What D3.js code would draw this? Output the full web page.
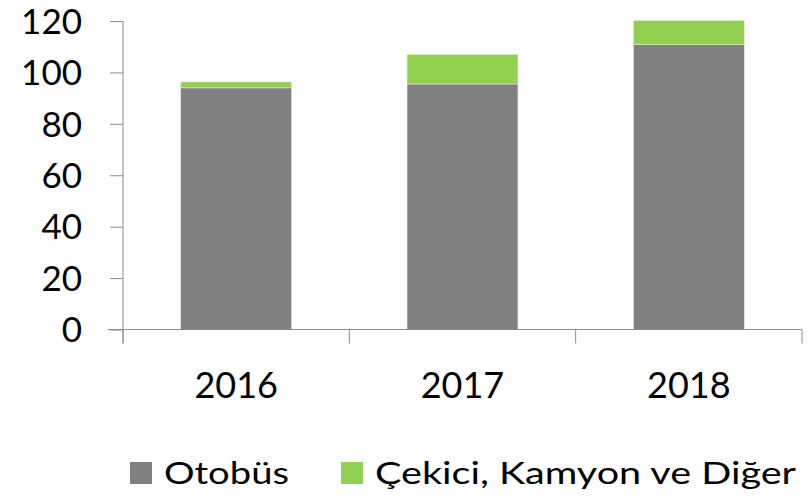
<!DOCTYPE html>
<html><head><meta charset="utf-8">
<script src="https://cdn.jsdelivr.net/npm/d3@7"></script>
<style>body{margin:0;background:#fff}svg{display:block}text{font-family:Lato,"Open Sans",sans-serif}</style>
</head><body><svg id="c" width="810" height="497"></svg>
<script>
const categories = ["2016","2017","2018"];
const seriesNames = ["Otobüs","Çekici, Kamyon ve Diğer"];
const otobus = [94.0, 95.5, 110.8];
const cekici = [2.3, 11.5, 9.4];
const yTicks = [0,20,40,60,80,100,120];
const colors = ["#808080","#92D050"];

const svg = d3.select("#c");
const x = d3.scaleBand().domain(categories).range([123,802]).paddingInner(0.51).paddingOuter(0.255);
const y = d3.scaleLinear().domain([0,120]).range([329.5,21]);
const axisColor = "#8c8c8c";

const rows = categories.map((c,i)=>({cat:c, Otobüs:otobus[i], "Çekici, Kamyon ve Diğer":cekici[i]}));
const stack = d3.stack().keys(seriesNames)(rows);

svg.append("g").selectAll("g").data(stack).join("g").attr("fill",(d,i)=>colors[i])
  .selectAll("rect").data(d=>d).join("rect")
  .attr("x",d=>x(d.data.cat)).attr("width",x.bandwidth())
  .attr("y",d=>y(d[1])).attr("height",d=>y(d[0])-y(d[1]))
  .attr("stroke","#e6e6e6").attr("stroke-width",0.6);

// y axis
const ya = svg.append("g").attr("transform","translate(123,0)")
  .call(d3.axisLeft(y).tickValues(yTicks).tickSize(13).tickPadding(28));
ya.select(".domain").attr("stroke",axisColor).attr("d","M0,"+y(120)+"V"+(y(0)+14));
ya.selectAll(".tick line").attr("stroke",axisColor);
ya.selectAll(".tick text").attr("font-size",35).attr("fill","#000").attr("font-family","Lato").attr("dy","0.35em");

// x axis
const xa = svg.append("g").attr("transform","translate(0,"+y(0)+")");
xa.append("line").attr("x1",108).attr("x2",802).attr("stroke",axisColor);
const bounds = [123, ...categories.map(c=>x(c)+x.bandwidth()+x.step()*x.paddingInner()/2)];
bounds[bounds.length-1]=802;
xa.selectAll("line.t").data(bounds).join("line").attr("class","t")
  .attr("x1",d=>d).attr("x2",d=>d).attr("y1",0).attr("y2",14).attr("stroke",axisColor);
xa.selectAll("text").data(categories).join("text")
  .attr("x",d=>x(d)+x.bandwidth()/2).attr("y",68).attr("text-anchor","middle")
  .attr("font-size",36).attr("fill","#000").text(d=>d);

// legend
const legX = [130, 341];
const legW = [125, 421];
const lg = svg.append("g");
seriesNames.forEach((n,i)=>{
  lg.append("rect").attr("x",legX[i]).attr("y",462).attr("width",22).attr("height",22).attr("fill",colors[i]);
  lg.append("text").attr("x",legX[i]+34).attr("y",484).attr("font-size",31).attr("fill","#000")
    .attr("textLength",legW[i]).attr("lengthAdjust","spacingAndGlyphs").text(n);
});
</script></body></html>
